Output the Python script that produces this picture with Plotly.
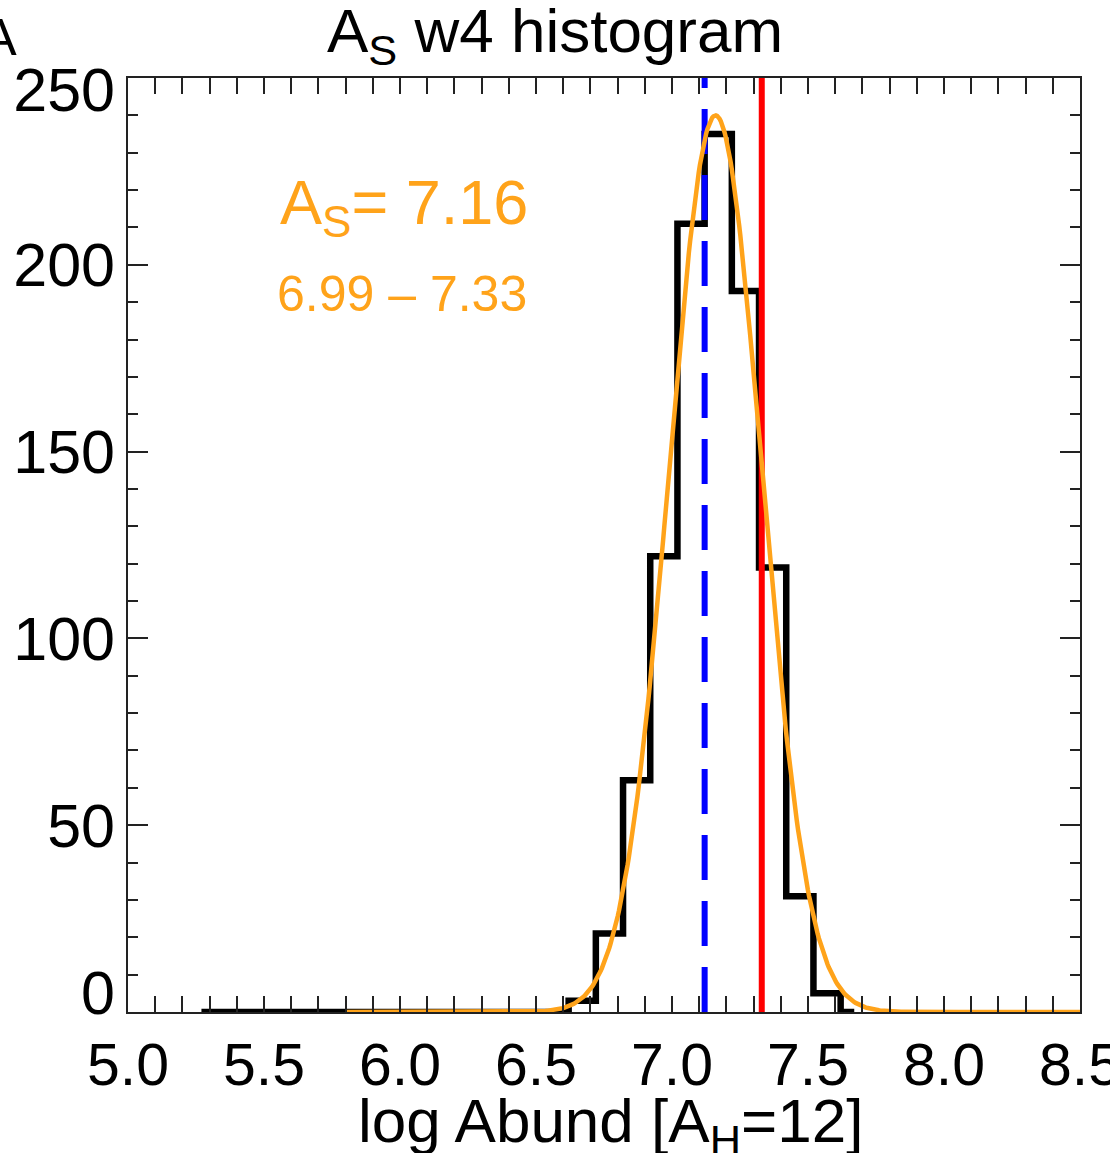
import numpy as np
import plotly.graph_objects as go

# Histogram (bin centres, counts)
bin_centers = [5.27, 5.37, 5.47, 5.57, 5.67, 5.77, 5.87, 5.97, 6.07, 6.17, 6.27, 6.37,
               6.47, 6.57, 6.67, 6.77, 6.87, 6.97, 7.07, 7.17, 7.27, 7.37, 7.47, 7.57, 7.67]
counts = [0, 0, 0, 0, 0, 0, 0, 0, 0, 0, 0, 0,
          0, 0, 3, 21, 62, 122, 211, 235, 193, 119, 31, 5, 0]

# Gaussian fit parameters shown on the chart
fit_center = 7.16
fit_sigma = 0.17
fit_amp = 240.0
fit_xmin, fit_xmax = 5.80, 8.50

blue_line_x = 7.12
red_line_x = 7.33

x_ticks = [5.0, 5.5, 6.0, 6.5, 7.0, 7.5, 8.0, 8.5]
x_ticklabels = ["5.0", "5.5", "6.0", "6.5", "7.0", "7.5", "8.0", "8.5"]
y_ticks = [0, 50, 100, 150, 200, 250]
y_ticklabels = ["0", "50", "100", "150", "200", "250"]
# label anchor positions: the end labels sit inside the frame in the original
y_label_pos = [5.1, 50, 100, 150, 200, 246.8]

ORANGE = "#FFA31A"
FONT = "Liberation Sans, Arial, sans-serif"

fx = np.linspace(fit_xmin, fit_xmax, 600)
fy = fit_amp * np.exp(-0.5 * ((fx - fit_center) / fit_sigma) ** 2)

fig = go.Figure()
fig.add_trace(go.Scatter(x=bin_centers, y=counts, mode="lines",
                         line=dict(color="black", width=6.5, shape="hvh"),
                         showlegend=False, cliponaxis=False))
fig.add_trace(go.Scatter(x=[blue_line_x, blue_line_x], y=[0, 250], mode="lines",
                         line=dict(color="#0000FF", width=6, dash="45px,21px"),
                         showlegend=False))
fig.add_trace(go.Scatter(x=[red_line_x, red_line_x], y=[0, 250], mode="lines",
                         line=dict(color="#FF0000", width=6),
                         showlegend=False))
fig.add_trace(go.Scatter(x=fx, y=fy, mode="lines",
                         line=dict(color=ORANGE, width=4.5),
                         showlegend=False, cliponaxis=False))
# invisible trace to carry the label axis
fig.add_trace(go.Scatter(x=[5.0], y=[0], mode="markers", marker=dict(opacity=0),
                         yaxis="y2", showlegend=False, hoverinfo="skip"))

axis_common = dict(showgrid=False, zeroline=False, showline=True, linecolor="#222",
                   linewidth=2, mirror="allticks", ticks="inside", tickcolor="#222",
                   tickwidth=2, automargin=False, ticklabeloverflow="allow",
                   tickfont=dict(family=FONT, size=59, color="black"))

fig.update_xaxes(range=[5.0, 8.5], tickvals=x_ticks, ticktext=x_ticklabels, ticklen=16,
                 minor=dict(dtick=0.1, ticklen=8, tickcolor="#222", tickwidth=2, ticks="inside"),
                 ticklabelstandoff=0,
                 **axis_common)
fig.update_yaxes(range=[0, 250], tickvals=y_ticks, ticktext=y_ticklabels, ticklen=20,
                 showticklabels=False,
                 minor=dict(dtick=10, ticklen=10, tickcolor="#222", tickwidth=2, ticks="inside"),
                 **axis_common)

fig.update_layout(
    width=1110, height=1153,
    margin=dict(l=128, r=30, t=78, b=141),
    plot_bgcolor="white", paper_bgcolor="white",
    yaxis2=dict(overlaying="y", side="left", range=[0, 250], tickvals=y_label_pos,
                ticktext=y_ticklabels, showline=False, showgrid=False, zeroline=False,
                ticks="", automargin=False, ticklabelstandoff=12,
                tickfont=dict(family=FONT, size=61, color="black")),
    title=dict(text="A<sub>S</sub> w4 histogram", x=0.5, xref="container", xanchor="center",
               y=1 - 30 / 1153, yref="container", yanchor="middle",
               font=dict(family=FONT, size=62, color="black")),
    annotations=[
        dict(text="log Abund [A<sub>H</sub>=12]", x=0.507, y=-(1125 - 1012) / 934,
             xref="paper", yref="paper", xanchor="center", yanchor="middle", showarrow=False,
             font=dict(family=FONT, size=62, color="black")),
        dict(text="A<sub>S</sub>= 7.16", x=5.55, y=215, xref="x", yref="y",
             xanchor="left", yanchor="middle", showarrow=False, yshift=2,
             font=dict(family=FONT, size=63, color=ORANGE)),
        dict(text="6.99 \u2013 7.33", x=5.54, y=192, xref="x", yref="y",
             xanchor="left", yanchor="middle", showarrow=False, yshift=1,
             font=dict(family=FONT, size=50, color=ORANGE)),
        dict(text="A", x=(19 - 128) / 952, y=1 + 41 / 934, xref="paper", yref="paper",
             xanchor="right", yanchor="middle", showarrow=False,
             font=dict(family=FONT, size=52, color="black")),
    ],
)

fig.write_html("out.html")
